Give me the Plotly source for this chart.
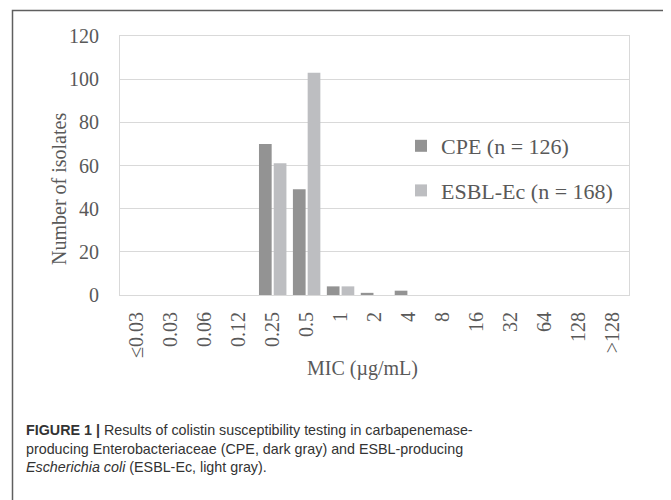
import plotly.graph_objects as go

categories = ["≤0.03", "0.03", "0.06", "0.12", "0.25", "0.5", "1", "2", "4",
              "8", "16", "32", "64", "128", ">128"]
cpe_values = [0, 0, 0, 0, 70, 49, 4, 1, 2, 0, 0, 0, 0, 0, 0]
esbl_values = [0, 0, 0, 0, 61, 103, 4, 0, 0, 0, 0, 0, 0, 0, 0]
y_ticks = [0, 20, 40, 60, 80, 100, 120]

W, H = 671, 500
OFF = 8  # page body margin
L, R, T, B = 120 - OFF, 629 - OFF, 36 - OFF, 295 - OFF


def px(x):
    return (x - OFF - L) / (R - L)


def py(y):
    return (B - (y - OFF)) / (B - T)


TXT = "#595959"
SERIF = "Liberation Serif, Times New Roman, serif"

fig = go.Figure()
fig.add_trace(go.Bar(x=categories, y=cpe_values, name="CPE (n = 126)",
                     marker=dict(color="#939393", line=dict(width=0)),
                     legendgroup="a"))
fig.add_trace(go.Bar(x=categories, y=esbl_values, name="ESBL-Ec (n = 168)",
                     marker=dict(color="#bdbec1", line=dict(width=0)),
                     legendgroup="b"))

fig.update_layout(
    width=W, height=H,
    margin=dict(l=L, r=W - R, t=T, b=H - B, autoexpand=False),
    paper_bgcolor="white", plot_bgcolor="white",
    barmode="group", bargap=0.13, bargroupgap=0.14,
    font=dict(family=SERIF, color=TXT, size=20),
    showlegend=True,
    legend=dict(x=px(401), y=py(125), xanchor="left", yanchor="top",
                bgcolor="rgba(0,0,0,0)", font=dict(size=22, family=SERIF, color=TXT),
                traceorder="grouped", tracegroupgap=13, itemwidth=30),
    xaxis=dict(type="category", tickangle=-90, showgrid=False,
               showline=True, linecolor="#d9d9d9", linewidth=1, mirror=True,
               ticks="", ticklabelstandoff=8,
               tickfont=dict(size=20, family=SERIF, color=TXT)),
    yaxis=dict(range=[0, 120], tickvals=y_ticks, showgrid=True,
               gridcolor="#d9d9d9", gridwidth=1, zeroline=False,
               showline=True, linecolor="#d9d9d9", linewidth=1, mirror=True,
               ticks="", ticklabelstandoff=16,
               tickfont=dict(size=20, family=SERIF, color=TXT)),
)

# axis titles
fig.add_annotation(text="Number of isolates", xref="paper", yref="paper",
                   x=px(59), y=py(189), textangle=-90, showarrow=False,
                   xanchor="center", yanchor="middle",
                   font=dict(size=20, family=SERIF, color=TXT))
fig.add_annotation(text="MIC (µg/mL)", xref="paper", yref="paper",
                   x=px(362), y=py(368), showarrow=False,
                   xanchor="center", yanchor="middle",
                   font=dict(size=20, family=SERIF, color=TXT))

# caption
caption = ("<b>FIGURE 1 |</b> Results of colistin susceptibility testing in carbapenemase-<br>"
           "producing Enterobacteriaceae (CPE, dark gray) and ESBL-producing<br>"
           "<i>Escherichia coli</i> (ESBL-Ec, light gray).")
fig.add_annotation(text=caption, xref="paper", yref="paper",
                   x=px(24), y=py(448), showarrow=False, align="left",
                   xanchor="left", yanchor="middle",
                   font=dict(size=14.3, family="Liberation Sans, Arial, sans-serif",
                             color="#333333"))

# outer frame (left and top edges)
fig.add_shape(type="path", xref="paper", yref="paper",
              path=f"M {px(12.5)} {py(520)} L {px(12.5)} {py(10.5)} L {px(700)} {py(10.5)}",
              line=dict(color="#5f5f5f", width=1.5))

fig.write_html("out.html")
